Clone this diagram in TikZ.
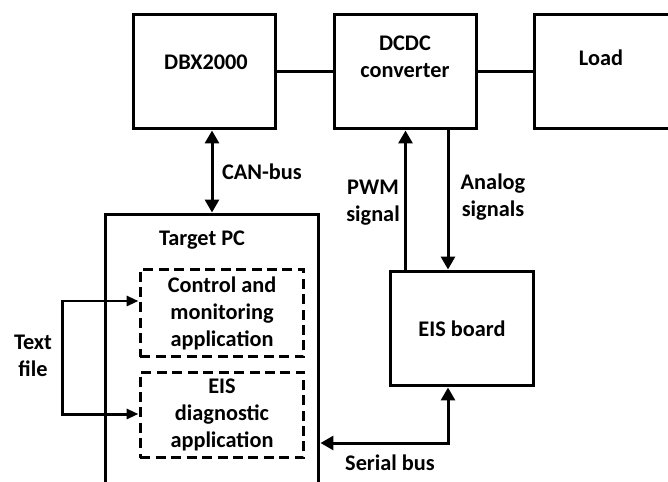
\documentclass[tikz,border=0pt]{standalone}
\usepackage{fontspec}
\setmainfont{Carlito}
\usetikzlibrary{arrows.meta, positioning, calc}

\tikzset{
  blk/.style={draw, line width=0.06cm, minimum width=2.86cm, minimum height=2.3cm, inner sep=0pt},
  app/.style={draw, line width=0.06cm, dash pattern=on 0.2cm off 0.11cm, minimum width=3.28cm, inner sep=0pt, align=center},
  txt/.style={align=center, inner sep=1pt},
  link/.style={line width=0.06cm},
}

\begin{document}
\begin{tikzpicture}[x=0.02cm, y=-0.02cm, font=\bfseries\fontsize{12.7}{15.4}\selectfont,
    >={Triangle[length=0.26cm, width=0.28cm]}]
\useasboundingbox (0,0) rectangle (668,482);
\clip (0,0) rectangle (668,482);

% Top row
\node[blk] (dbx) at (204.5,71.5) {};
\node[txt] (dbxlbl) at (206,62) {DBX2000};
\node[blk] (dcdc) at (405.5,71.5) {};
\node[txt] (dcdclbl) at (405,57) {DCDC\\converter};
\node[blk, minimum width=3.12cm] (load) at (612,71.5) {};
\node[txt] (loadlbl) at (601,58) {Load};

\draw[link] (dbx) -- (dcdc);
\draw[link] (dcdc) -- (load);

% Target PC
\node[blk, minimum width=4.28cm, minimum height=5.72cm] (tpc) at (212,357) {};
\node[txt] (tpclbl) at (202,240) {Target PC};
\node[app, minimum height=1.76cm] (ctrl) at (222,313) {Control and\\monitoring\\application};
\node[app, minimum height=1.72cm] (diag) at (222,415) {EIS\\diagnostic\\application};

\draw[link, <->] (tpc.north) -- (tpc.north |- dbx.south);
\node[txt, right] (canlbl) at (220,172) {CAN-bus};

% EIS board
\node[blk, minimum width=2.88cm] (eis) at (462,328.5) {EIS board};
\coordinate (an) at (448,200);
\coordinate (sb) at (448,443);

\draw[link, ->] (eis.north -| dcdc) -- (dcdc.south);
\draw[link, ->] (dcdc.south -| an) -- (eis.north -| an);
\node[txt] (pwmlbl) at (373,203) {PWM\\signal};
\node[txt] (anlbl) at (493,197) {Analog\\signals};

\draw[link, <->] (tpc.east |- sb) -- (sb) -- (eis.south -| sb);
\node[txt] (sblbl) at (390,463) {Serial bus};

% Text file
\coordinate (tf1) at (62,301);
\coordinate (tf2) at (62,414);
\draw[link, <->, >={Triangle[length=0.24cm, width=0.2cm]}]
    (tf1 -| ctrl.west) -- (tf1) -- (tf2) -- (tf2 -| diag.west);
\node[txt] (tflbl) at (33,356) {Text\\file};
\end{tikzpicture}
\end{document}
